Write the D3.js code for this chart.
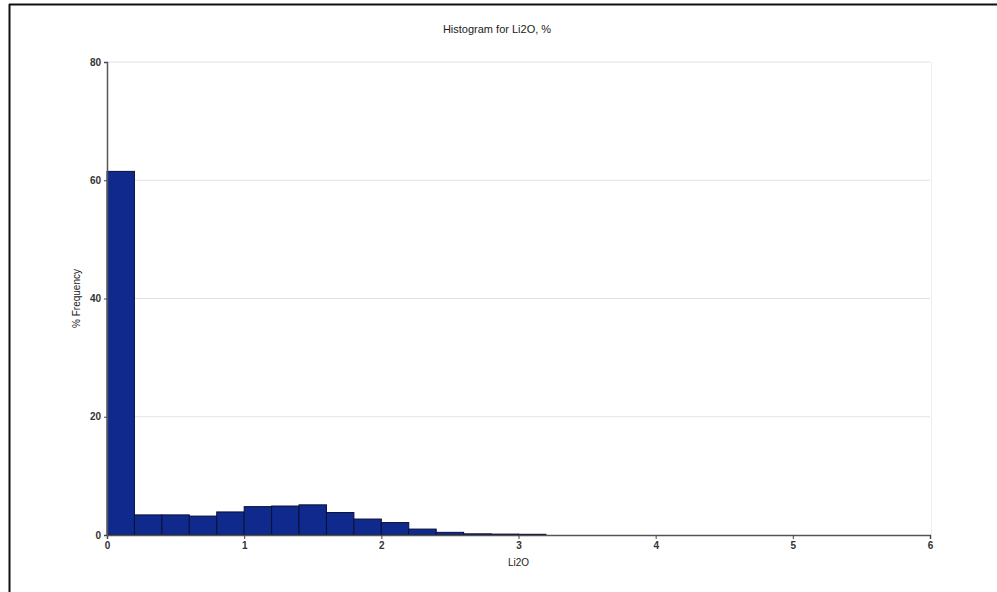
<!DOCTYPE html>
<html>
<head>
<meta charset="utf-8">
<script src="https://cdn.jsdelivr.net/npm/d3@7"></script>
<style>
  body { margin: 0; background: #fff; }
  svg text { font-family: "Liberation Sans", Arial, sans-serif; fill: #222; }
</style>
</head>
<body>
<svg id="chart" width="997" height="592"></svg>
<script>
// bin edges (Li2O, %) and % frequency per bin
let binStarts = [0, 0.2, 0.4, 0.6, 0.8, 1.0, 1.2, 1.4, 1.6, 1.8, 2.0, 2.2, 2.4, 2.6, 2.8, 3.0];
let binWidth = 0.2;
let freqs = [61.5, 3.4, 3.4, 3.2, 3.9, 4.8, 4.9, 5.1, 3.8, 2.7, 2.1, 1.0, 0.45, 0.2, 0.15, 0.12];
let xTicks = [0, 1, 2, 3, 4, 5, 6];
let yTicks = [0, 20, 40, 60, 80];

let svg = d3.select("#chart");

// scanned page frame
svg.append("line").attr("x1", 9).attr("x2", 997).attr("y1", 4.5).attr("y2", 4.5)
    .style("stroke", "#111").style("stroke-width", 2);
svg.append("line").attr("x1", 9.5).attr("x2", 9.5).attr("y1", 4).attr("y2", 592)
    .style("stroke", "#111").style("stroke-width", 2);

let margin = {top: 62, right: 67, bottom: 57, left: 107};
let width = 997 - margin.left - margin.right;
let height = 592 - margin.top - margin.bottom;

let g = svg.append("g").attr("transform", `translate(${margin.left}, ${margin.top})`);

let x = d3.scaleLinear().domain([0, 6]).range([0, width]);
let y = d3.scaleLinear().domain([0, 80]).range([height, 0]);

// gridlines
g.selectAll(".grid")
    .data(yTicks.slice(1))
    .join("line")
    .attr("x1", 0).attr("x2", width)
    .attr("y1", d => y(d)).attr("y2", d => y(d))
    .style("stroke", "#e2e2e2").style("stroke-width", 1);
g.append("line").attr("x1", width + 1.5).attr("x2", width + 1.5).attr("y1", 0).attr("y2", height)
    .style("stroke", "#eeeeee");

// bars
g.selectAll(".bar")
    .data(binStarts)
    .join("rect")
    .attr("x", d => x(d))
    .attr("width", x(binWidth) - x(0))
    .attr("y", (d, i) => y(freqs[i]))
    .attr("height", (d, i) => height - y(freqs[i]))
    .style("fill", "#0f2a8c")
    .style("stroke", "#0a0f3a")
    .style("stroke-width", 1);

// axes
let xAxis = g.append("g")
    .attr("transform", `translate(0, ${height})`)
    .call(d3.axisBottom(x).tickValues(xTicks).tickSize(4).tickPadding(3).tickFormat(d3.format("d")));
let yAxis = g.append("g")
    .call(d3.axisLeft(y).tickValues(yTicks).tickSize(3).tickPadding(3));

[xAxis, yAxis].forEach(a => {
    a.select(".domain").style("stroke", "#555").style("stroke-width", 1.5);
    a.selectAll(".tick line").style("stroke", "#444");
    a.selectAll("text").style("font-size", "10px").style("font-weight", "bold").style("fill", "#333");
});

// title & labels
svg.append("text")
    .attr("x", 497).attr("y", 33)
    .attr("text-anchor", "middle")
    .style("font-size", "11px")
    .text("Histogram for Li2O, %");

svg.append("text")
    .attr("x", margin.left + x(3)).attr("y", 566)
    .attr("text-anchor", "middle")
    .style("font-size", "10px")
    .text("Li2O");

svg.append("text")
    .attr("transform", `translate(80, ${margin.top + y(40)}) rotate(-90)`)
    .attr("text-anchor", "middle")
    .style("font-size", "10px")
    .text("% Frequency");
</script>
</body>
</html>
